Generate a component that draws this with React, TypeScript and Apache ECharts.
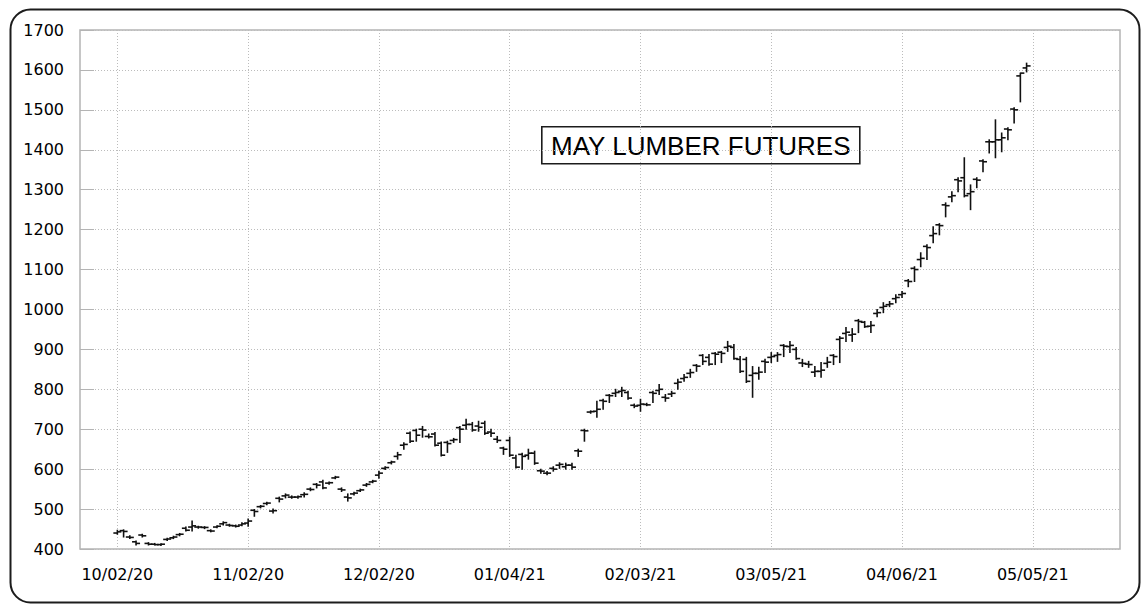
import React, { useEffect, useRef } from "react";
import * as echarts from "echarts";

// Tick labels on the x axis (one every 21 trading days)
const xTickLabels = ["10/02/20", "11/02/20", "12/02/20", "01/04/21", "02/03/21", "03/05/21", "04/06/21", "05/05/21"];
const LEAD = 6; // empty slots before first trading day
const TOTAL_SLOTS = 168;
const LABEL_EVERY = 21;

// Daily OHLC of May lumber futures (trading day 0 = 10/02/20)
const opens = [
  440, 446, 430, 418, 435, 414, 412, 411, 424, 428, 436, 452, 455, 455, 454, 446, 455, 463, 460, 458, 460, 465,
  497, 506, 514, 495, 527, 533, 530, 530, 536, 550, 562, 568, 565, 578, 550, 530, 538, 546, 560, 568, 585,
  602, 616, 632, 660, 690, 697, 700, 682, 688, 665, 667, 672, 704, 710, 712, 708, 715, 693, 675, 653, 672,
  628, 637, 635, 640, 596, 590, 602, 610, 606, 610, 646, 697, 743, 745, 772, 785, 790, 795, 792, 760,
  760, 762, 792, 797, 780, 788, 815, 827, 840, 860, 885, 880, 890, 893, 905, 905, 875, 875, 835, 840, 870,
  880, 885, 910, 907, 900, 866, 863, 843, 845, 865, 885, 925, 940, 936, 972, 968, 958, 990, 1005, 1012, 1027,
  1037, 1072, 1103, 1125, 1158, 1185, 1212, 1262, 1282, 1325, 1330, 1290, 1326, 1372, 1420, 1420, 1425, 1452, 1502, 1585, 1605,
];
const highs = [
  447, 448, 433, 420, 437, 416, 414, 413, 427, 432, 439, 455, 470, 457, 456, 448, 458, 468, 462, 460, 466, 475,
  499, 509, 517, 500, 530, 538, 533, 533, 541, 553, 564, 572, 568, 582, 553, 538, 542, 550, 564, 572, 595,
  606, 620, 642, 666, 693, 700, 707, 688, 692, 668, 670, 677, 707, 725, 717, 720, 720, 700, 682, 655, 680,
  635, 640, 650, 645, 600, 594, 606, 616, 615, 615, 650, 700, 746, 770, 775, 787, 800, 805, 795, 763,
  775, 765, 795, 812, 787, 795, 825, 837, 850, 862, 887, 887, 892, 895, 920, 912, 882, 880, 857, 855, 875,
  892, 892, 912, 920, 905, 875, 870, 857, 867, 880, 887, 932, 955, 952, 975, 970, 970, 1000, 1017, 1020, 1037,
  1045, 1075, 1107, 1142, 1162, 1207, 1215, 1267, 1295, 1330, 1380, 1312, 1330, 1375, 1425, 1475, 1442, 1455, 1505, 1592, 1617,
];
const lows = [
  437, 430, 426, 410, 430, 410, 410, 409, 421, 426, 433, 445, 445, 452, 451, 443, 453, 460, 457, 455, 458, 457,
  482, 503, 511, 490, 518, 528, 527, 527, 530, 546, 553, 551, 562, 576, 544, 520, 535, 544, 557, 566, 577,
  599, 613, 625, 650, 667, 670, 680, 678, 658, 633, 642, 667, 667, 700, 695, 695, 687, 682, 667, 637, 632,
  603, 600, 625, 612, 590, 586, 595, 602, 600, 600, 632, 670, 740, 730, 750, 767, 782, 782, 775, 754,
  745, 759, 767, 787, 770, 782, 800, 820, 830, 845, 862, 860, 862, 867, 895, 875, 842, 817, 780, 825, 842,
  867, 870, 882, 892, 875, 857, 855, 832, 830, 855, 862, 867, 920, 920, 942, 955, 942, 982, 992, 1007, 1017,
  1030, 1057, 1070, 1107, 1125, 1167, 1187, 1232, 1270, 1295, 1282, 1250, 1305, 1345, 1392, 1380, 1395, 1425, 1467, 1520, 1595,
];
const closes = [
  443, 444, 429, 414, 433, 412, 411, 412, 425, 430, 437, 447, 458, 455, 454, 445, 457, 466, 459, 457, 463, 470,
  494, 507, 515, 496, 525, 535, 530, 531, 537, 549, 560, 553, 566, 580, 548, 528, 540, 548, 562, 570, 590,
  604, 618, 636, 662, 670, 685, 698, 681, 660, 635, 664, 674, 700, 712, 698, 705, 690, 690, 672, 650, 635,
  605, 632, 640, 615, 595, 590, 600, 612, 610, 605, 645, 696, 744, 750, 770, 784, 792, 797, 778, 758,
  763, 761, 790, 800, 778, 790, 818, 830, 842, 858, 870, 863, 888, 890, 908, 877, 845, 820, 840, 843, 868,
  882, 887, 908, 910, 877, 865, 862, 845, 848, 868, 882, 928, 943, 938, 970, 957, 960, 992, 1008, 1014, 1030,
  1040, 1070, 1100, 1128, 1155, 1190, 1210, 1260, 1285, 1322, 1285, 1295, 1324, 1370, 1420, 1425, 1430, 1450, 1500, 1592, 1610,
];

const yMin = 400;
const yMax = 1700;
const yStep = 100;
const chartTitle = "MAY LUMBER FUTURES";

export default function App() {
  const ref = useRef<HTMLDivElement>(null);

  useEffect(() => {
    if (!ref.current) return;
    const chart = echarts.init(ref.current, null, { renderer: "svg" });

    const categories = Array.from({ length: TOTAL_SLOTS }, (_, i) => String(i));
    const data = opens.map((o, i) => [i + LEAD, o, highs[i], lows[i], closes[i]]);
    const isTick = (i: number) => i >= LEAD && (i - LEAD) % LABEL_EVERY === 0 && (i - LEAD) / LABEL_EVERY < xTickLabels.length;

    const font = "DejaVu Sans";

    chart.setOption({
      animation: false,
      backgroundColor: "#ffffff",
      grid: {
        left: 80,
        top: 30,
        right: 26,
        bottom: 59,
        show: true,
        borderColor: "#b4b4b4",
        borderWidth: 1.5,
        backgroundColor: "transparent",
      },
      xAxis: {
        type: "category",
        data: categories,
        boundaryGap: false,
        axisLine: { show: false },
        axisTick: { show: false },
        axisLabel: {
          interval: (i: number) => isTick(i),
          formatter: (_v: string, i: number) => (isTick(i) ? xTickLabels[(i - LEAD) / LABEL_EVERY] : ""),
          fontFamily: font,
          fontSize: 16,
          color: "#000",
          margin: 17,
        },
        splitLine: {
          show: true,
          interval: (i: number) => isTick(i),
          lineStyle: { color: "#bcbcbc", type: [1, 2], width: 1 },
        },
      },
      yAxis: {
        type: "value",
        min: yMin,
        max: yMax,
        interval: yStep,
        axisLine: { show: false },
        axisTick: { show: true, inside: true, length: 14, lineStyle: { color: "#b4b4b4", width: 1 } },
        axisLabel: {
          fontFamily: font,
          fontSize: 16,
          color: "#000",
          margin: 16,
          formatter: (v: number) => String(v),
        },
        splitLine: { show: true, lineStyle: { color: "#bcbcbc", type: [1, 2], width: 1 } },
      },
      graphic: [
        {
          type: "rect",
          left: 8,
          top: 7,
          shape: { width: 1129, height: 593, r: 20 },
          style: { fill: "none", stroke: "#1c1c1c", lineWidth: 2 },
          z: 100,
        },
        {
          type: "group",
          left: 541,
          top: 126,
          z: 100,
          children: [
            {
              type: "rect",
              shape: { x: 0, y: 0, width: 318, height: 37 },
              style: { fill: "#ffffff", stroke: "#1c1c1c", lineWidth: 1.6 },
            },
            {
              type: "text",
              x: 159,
              y: 19,
              style: {
                text: chartTitle,
                fill: "#000",
                font: "26px 'Liberation Sans'",
                align: "center",
                verticalAlign: "middle",
              },
            },
          ],
        },
      ],
      series: [
        {
          type: "custom",
          data,
          encode: { x: 0, y: [1, 2, 3, 4] },
          renderItem: (_params: any, api: any) => {
            const x = api.value(0);
            const o = api.coord([x, api.value(1)]);
            const h = api.coord([x, api.value(2)]);
            const l = api.coord([x, api.value(3)]);
            const c = api.coord([x, api.value(4)]);
            const style = { stroke: "#111", lineWidth: 1.6 };
            return {
              type: "group",
              children: [
                { type: "line", shape: { x1: h[0], y1: h[1] - 0.5, x2: l[0], y2: l[1] + 0.5 }, style },
                { type: "line", shape: { x1: o[0] - 4, y1: o[1], x2: o[0], y2: o[1] }, style },
                { type: "line", shape: { x1: c[0], y1: c[1], x2: c[0] + 4, y2: c[1] }, style },
              ],
            };
          },
        },
      ],
    });

    return () => chart.dispose();
  }, []);

  return (
    <div
      ref={ref}
      style={{ position: "absolute", left: 0, top: 0, width: 1146, height: 608, background: "#fff" }}
    />
  );
}
